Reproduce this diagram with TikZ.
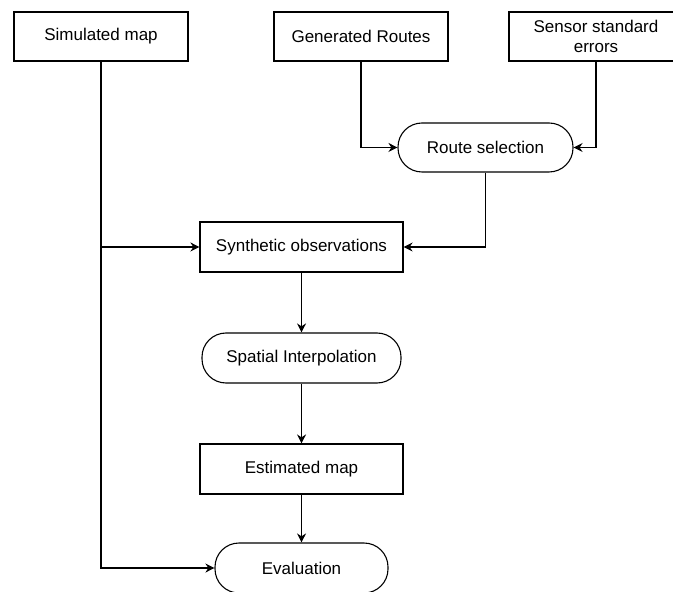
\documentclass[tikz,border=0pt]{standalone}
\usepackage{fontspec}
\setmainfont{Liberation Sans}
\usetikzlibrary{positioning, arrows.meta}

\tikzset{
    box/.style={draw, rectangle, minimum width=87pt, minimum height=24.5pt, align=center, inner sep=1pt},
    widebox/.style={box, minimum width=101.5pt, minimum height=25pt},
    pill/.style={box, rounded corners=12pt},
    flow/.style={-{Stealth[length=4.5pt, width=4.5pt]}},
}

\begin{document}
\begin{tikzpicture}[x=0.5pt, y=-0.5pt, line width=0.55pt,
    font=\fontsize{8.5}{10}\selectfont]
    \useasboundingbox (0,0) rectangle (673,592);
    % inputs
    \node[box] (simmap) at (101,36.5) {Simulated map};
    \node[box] (genroutes) at (361,36.5) {Generated Routes};
    \node[box] (sensorerr) at (596,36.5) {Sensor standard\\errors};
    % chain
    \node[pill, minimum width=87.5pt] (routesel) at (485.5,147.5) {Route selection};
    \node[widebox] (synthobs) at (301.5,247) {Synthetic observations};
    \node[widebox, rounded corners=12pt, minimum width=99.5pt] (spatinterp) at (301.5,358) {Spatial Interpolation};
    \node[widebox] (estmap) at (301.5,469) {Estimated map};
    \node[pill, minimum width=86.5pt, minimum height=25pt] (evaluation) at (301.5,568) {Evaluation};
    % connectors
    \draw[flow] (genroutes.south) |- (routesel.west);
    \draw[flow] (sensorerr.south) |- (routesel.east);
    \draw[flow] (routesel.south) |- (synthobs.east);
    \draw[flow] (simmap.south) |- (synthobs.west);
    \draw[flow] (simmap.south) |- (evaluation.west);
    \draw[flow] (synthobs) -- (spatinterp);
    \draw[flow] (spatinterp) -- (estmap);
    \draw[flow] (estmap) -- (evaluation);
\end{tikzpicture}
\end{document}
